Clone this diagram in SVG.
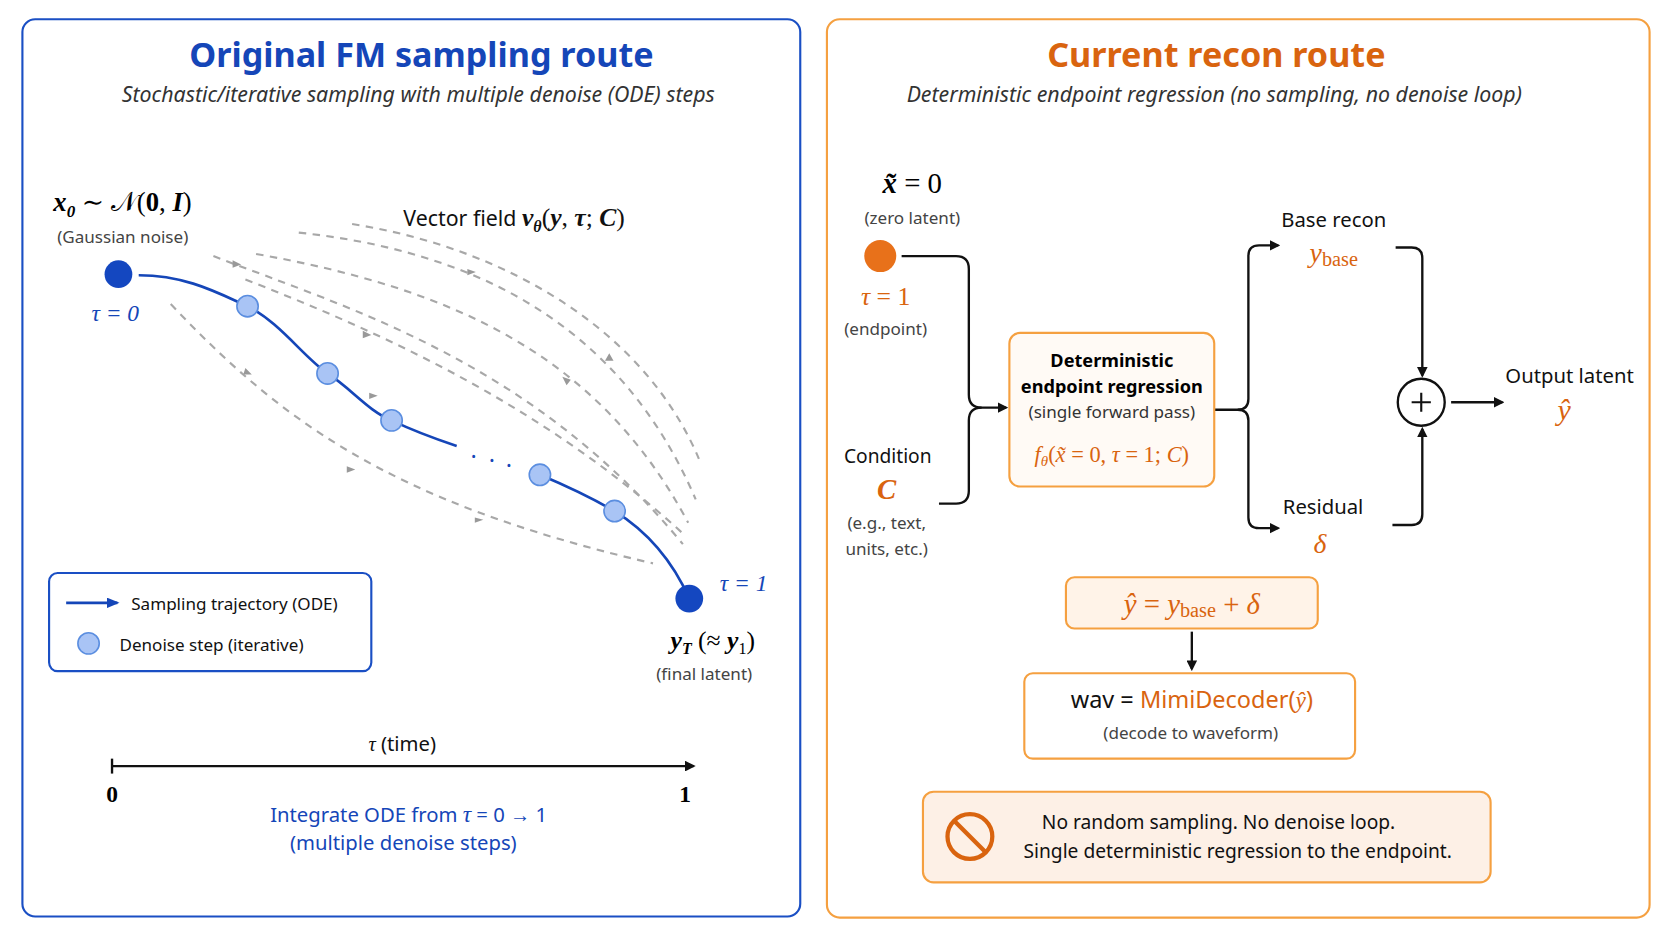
<svg xmlns="http://www.w3.org/2000/svg" width="1672" height="941" viewBox="0 0 1672 941">
<defs>
<style>
.s{font-family:"Noto Sans","Open Sans",sans-serif}
.m{font-family:"Liberation Serif","DejaVu Serif",serif;font-style:italic}
.t{font-size:32px;font-weight:bold}
.sub{font-size:20px;font-style:italic;fill:#333}
.g{font-size:16px;fill:#444}
.b{fill:#1546b8}
.o{fill:#d9640f}
.dash{fill:none;stroke:#a8a8a8;stroke-width:2;stroke-dasharray:7 6}
.ln{fill:none;stroke:#111;stroke-width:2.2}
.ld{fill:#a9c4f5;stroke:#5b8ee0;stroke-width:1.5}
</style>
<marker id="ah" markerWidth="10" markerHeight="10" refX="8" refY="5" orient="auto" markerUnits="userSpaceOnUse"><path d="M0,0 L10,5 L0,10 z" fill="#111"/></marker>
<marker id="ahb" markerWidth="12" markerHeight="10" refX="10" refY="5" orient="auto" markerUnits="userSpaceOnUse"><path d="M0,0 L12,5 L0,10 z" fill="#1546b8"/></marker>
<marker id="ahg" markerWidth="9" markerHeight="8" refX="4" refY="4" orient="auto" markerUnits="userSpaceOnUse"><path d="M0,0 L9,4 L0,8 z" fill="#999"/></marker>
</defs>
<rect width="1672" height="941" fill="#fff"/>
<g transform="scale(1.067)">
<g id="left-panel">
<rect x="21" y="18" width="729" height="841" rx="12" fill="#fff" stroke="#1a4fc4" stroke-width="2"/>
<text x="395" y="63" text-anchor="middle" class="s t b">Original FM sampling route</text>
<text x="392" y="96" text-anchor="middle" class="s sub">Stochastic/iterative sampling with multiple denoise (ODE) steps</text>
</g>
<g id="connectors-left">
<path class="dash" d="M200,240 C330,290 500,340 640,510" marker-mid="url(#ahg)"/>
<path class="dash" d="M160,285 C260,390 360,470 612,528"/>
<path class="dash" d="M230,262 C380,320 520,390 640,500"/>
<path class="dash" d="M280,218 C440,235 580,300 652,468"/>
<path class="dash" d="M240,238 C420,270 560,330 645,490"/>
<path class="dash" d="M330,210 C460,230 600,300 655,430"/>
<path d="M218,244 l8,4 l-8,3z M340,310 l8,4 l-8,3z M438,252 l8,3 l-8,3z M230,345 l6,6 l-8,0z M325,437 l8,3 l-8,3z M445,485 l8,2 l-8,3z M346,368 l8,3 l-8,3z M535,356 l-8,-3 l4,8z M575,338 l-4,-7 l-4,7z" fill="#999"/>
<path d="M130,258 C175,258 205,275 232,287 C262,302 285,335 307,350 C330,365 345,385 367,394 C390,405 410,412 428,418" fill="none" stroke="#1546b8" stroke-width="2.5"/>
<path d="M506,445 C530,455 555,467 576,479 C605,497 630,525 646,561" fill="none" stroke="#1546b8" stroke-width="2.5"/>
<text x="441" y="436" class="s b" font-size="22">·</text><text x="458" y="440" class="s b" font-size="22">·</text><text x="474" y="444" class="s b" font-size="22">·</text>
<line x1="105" y1="718" x2="650" y2="718" class="ln" marker-end="url(#ah)"/>
<line x1="105" y1="711" x2="105" y2="725" class="ln"/>
</g>
<g id="left-nodes">
<circle cx="111" cy="257" r="13" fill="#1447c0"/>
<circle cx="232" cy="287" r="10" class="ld"/>
<circle cx="307" cy="350" r="10" class="ld"/>
<circle cx="367" cy="394" r="10" class="ld"/>
<circle cx="506" cy="445" r="10" class="ld"/>
<circle cx="576" cy="479" r="10" class="ld"/>
<circle cx="646" cy="561" r="13" fill="#1447c0"/>
<text x="50" y="198" class="m" font-size="25" font-weight="bold">x<tspan font-size="16" dy="5">0</tspan><tspan dy="-5" font-style="normal" font-weight="normal"> ∼ 𝒩(</tspan><tspan font-style="normal">0</tspan><tspan font-style="normal" font-weight="normal">, </tspan>I<tspan font-style="normal" font-weight="normal">)</tspan></text>
<text x="115" y="228" text-anchor="middle" class="s g">(Gaussian noise)</text>
<text x="108" y="301" text-anchor="middle" class="m b" font-size="22">τ = 0</text>
<text x="378" y="212" class="s" font-size="20" fill="#111">Vector field <tspan class="m" font-size="24" font-weight="bold">v<tspan font-size="15" dy="5">θ</tspan><tspan dy="-5" font-style="normal" font-weight="normal">(</tspan>y<tspan font-style="normal" font-weight="normal">, </tspan>τ<tspan font-style="normal" font-weight="normal">; </tspan>C<tspan font-style="normal" font-weight="normal">)</tspan></tspan></text>
<text x="697" y="554" text-anchor="middle" class="m b" font-size="22">τ = 1</text>
<text x="668" y="608" text-anchor="middle" class="m" font-size="24" font-weight="bold">y<tspan font-size="15" dy="5">T</tspan><tspan dy="-5" font-style="normal" font-weight="normal"> (≈ </tspan>y<tspan font-size="15" dy="5" font-style="normal" font-weight="normal">1</tspan><tspan dy="-5" font-style="normal" font-weight="normal">)</tspan></text>
<text x="660" y="637" text-anchor="middle" class="s g">(final latent)</text>
</g>
<g id="legend">
<rect x="46" y="537" width="302" height="92" rx="8" fill="#fff" stroke="#1a4fc4" stroke-width="2"/>
<line x1="62" y1="565" x2="110" y2="565" stroke="#1546b8" stroke-width="2.5" marker-end="url(#ahb)"/>
<text x="123" y="572" class="s" font-size="16" fill="#111">Sampling trajectory (ODE)</text>
<circle cx="83" cy="603" r="10" class="ld"/>
<text x="112" y="610" class="s" font-size="16" fill="#111">Denoise step (iterative)</text>
</g>
<g id="axis">
<text x="377" y="704" text-anchor="middle" class="s" font-size="19" fill="#111"><tspan class="m">τ</tspan> (time)</text>
<text x="105" y="752" text-anchor="middle" font-family="Liberation Serif,serif" font-size="22" font-weight="bold">0</text>
<text x="642" y="752" text-anchor="middle" font-family="Liberation Serif,serif" font-size="22" font-weight="bold">1</text>
<text x="383" y="770" text-anchor="middle" class="s b" font-size="19">Integrate ODE from <tspan class="m" font-size="22">τ</tspan> = 0 → 1</text>
<text x="378" y="797" text-anchor="middle" class="s b" font-size="19">(multiple denoise steps)</text>
</g>

<g id="right-panel">
<rect x="775" y="18" width="771" height="842" rx="12" fill="#fff" stroke="#f5a040" stroke-width="2"/>
<text x="1140" y="63" text-anchor="middle" class="s t o">Current recon route</text>
<text x="1138" y="96" text-anchor="middle" class="s sub">Deterministic endpoint regression (no sampling, no denoise loop)</text>
</g>
<g id="connectors-right" class="ln">
<path d="M845,240 H896 Q908,240 908,252 V370 Q908,382 920,382 H943" marker-end="url(#ah)"/>
<path d="M880,472 H896 Q908,472 908,460 V394 Q908,382 920,382"/>
<path d="M1138,384 H1160 Q1170,384 1170,374 V240 Q1170,230 1180,230 H1198" marker-end="url(#ah)"/>
<path d="M1160,384 Q1170,384 1170,394 V485 Q1170,495 1180,495 H1198" marker-end="url(#ah)"/>
<path d="M1308,232 H1323 Q1333,232 1333,242 V352" marker-end="url(#ah)"/>
<path d="M1305,492 H1323 Q1333,492 1333,482 V402" marker-end="url(#ah)"/>
<path d="M1360,377 H1408" marker-end="url(#ah)"/>
<path d="M1117,592 V627" marker-end="url(#ah)"/>
</g>
<g id="zero-latent">
<text x="855" y="181" text-anchor="middle" class="m" font-size="27" font-weight="bold">x̃ <tspan font-style="normal" font-weight="normal">= 0</tspan></text>
<text x="855" y="210" text-anchor="middle" class="s g">(zero latent)</text>
<circle cx="825" cy="240" r="15" fill="#e8711a"/>
<text x="830" y="286" text-anchor="middle" class="m o" font-size="24">τ <tspan font-style="normal">= 1</tspan></text>
<text x="830" y="314" text-anchor="middle" class="s g">(endpoint)</text>
</g>
<g id="condition">
<text x="832" y="434" text-anchor="middle" class="s" font-size="18" fill="#111">Condition</text>
<text x="831" y="468" text-anchor="middle" class="m o" font-size="27" font-weight="bold">C</text>
<text x="831" y="496" text-anchor="middle" class="s g">(e.g., text,</text>
<text x="831" y="520" text-anchor="middle" class="s g">units, etc.)</text>
</g>
<g id="regression">
<rect x="946" y="312" width="192" height="144" rx="10" fill="#fffaf5" stroke="#f5a040" stroke-width="2"/>
<text x="1042" y="344" text-anchor="middle" class="s" font-size="17" font-weight="bold">Deterministic</text>
<text x="1042" y="368" text-anchor="middle" class="s" font-size="17" font-weight="bold">endpoint regression</text>
<text x="1042" y="392" text-anchor="middle" class="s" font-size="16" fill="#333">(single forward pass)</text>
<text x="1042" y="433" text-anchor="middle" class="m o" font-size="21">f<tspan font-size="14" dy="4">θ</tspan><tspan dy="-4" font-style="normal">(</tspan>x̃<tspan font-style="normal"> = 0, </tspan>τ<tspan font-style="normal"> = 1; </tspan>C<tspan font-style="normal">)</tspan></text>
</g>
<g id="base">
<text x="1250" y="213" text-anchor="middle" class="s" font-size="19" fill="#111">Base recon</text>
<text x="1250" y="246" text-anchor="middle" class="m o" font-size="26">y<tspan font-style="normal" font-size="19" dy="3">base</tspan></text>
</g>
<g id="residual">
<text x="1240" y="482" text-anchor="middle" class="s" font-size="19" fill="#111">Residual</text>
<text x="1237" y="518" text-anchor="middle" class="m o" font-size="26">δ</text>
</g>
<g id="sum">
<circle cx="1332" cy="377" r="22" fill="#fff" stroke="#111" stroke-width="2.2"/>
<path d="M1332,368 V386 M1323,377 H1341" stroke="#111" stroke-width="2"/>
</g>
<g id="output">
<text x="1471" y="359" text-anchor="middle" class="s" font-size="19" fill="#111">Output latent</text>
<text x="1466" y="394" text-anchor="middle" class="m o" font-size="28">ŷ</text>
</g>
<g id="formula">
<rect x="999" y="541" width="236" height="48" rx="8" fill="#fff3e8" stroke="#f5a040" stroke-width="2"/>
<text x="1117" y="575" text-anchor="middle" class="m o" font-size="27">ŷ <tspan font-style="normal">= </tspan>y<tspan font-style="normal" font-size="19" dy="3">base</tspan><tspan dy="-3" font-style="normal"> + </tspan>δ</text>
</g>
<g id="decoder">
<rect x="960" y="631" width="310" height="80" rx="8" fill="#fff" stroke="#f5a040" stroke-width="2"/>
<text x="1117" y="664" text-anchor="middle" class="s" font-size="22" fill="#111">wav = <tspan class="o">MimiDecoder(<tspan class="m">ŷ</tspan>)</tspan></text>
<text x="1116" y="693" text-anchor="middle" class="s g">(decode to waveform)</text>
</g>
<g id="notice">
<rect x="865" y="742" width="532" height="85" rx="10" fill="#fdf0e6" stroke="#f5a040" stroke-width="2"/>
<circle cx="909" cy="784" r="21" fill="none" stroke="#d9640f" stroke-width="4"/>
<line x1="894" y1="769" x2="924" y2="799" stroke="#d9640f" stroke-width="4"/>
<text x="1142" y="777" text-anchor="middle" class="s" font-size="18" fill="#111">No random sampling. No denoise loop.</text>
<text x="1160" y="804" text-anchor="middle" class="s" font-size="18" fill="#111">Single deterministic regression to the endpoint.</text>
</g>
</g>
</svg>
